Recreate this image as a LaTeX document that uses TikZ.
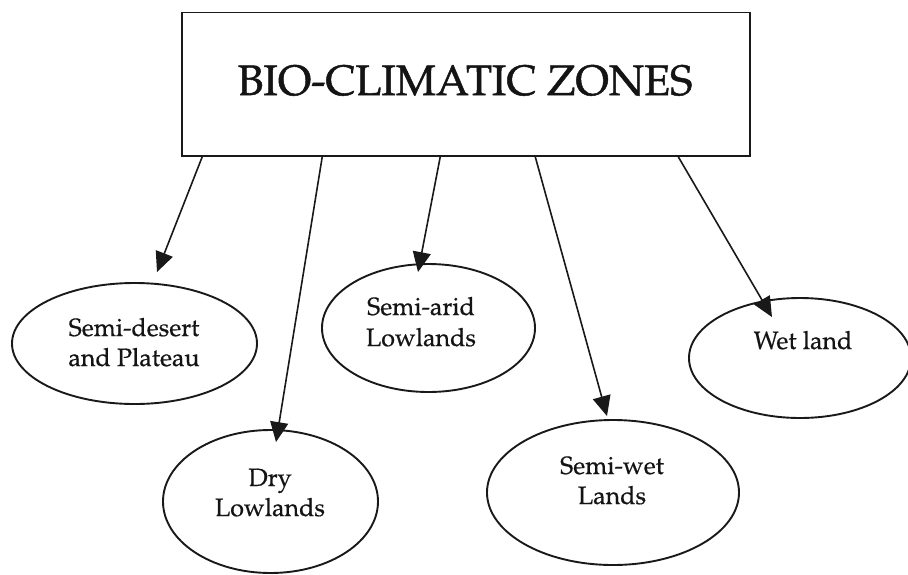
\documentclass[tikz,border=0pt]{standalone}
\usepackage[T1]{fontenc}
\renewcommand{\rmdefault}{ppl}
\usetikzlibrary{shapes.geometric,arrows.meta}
% slightly heavier glyphs: fill and stroke the outlines
\newcommand{\heavytext}[2]{\special{pdf:literal direct 2 Tr #1 w}#2\special{pdf:literal direct 0 Tr}}
\begin{document}
\begin{tikzpicture}[x=1pt,y=-1pt,
  ink/.style={draw=black!90},
  titlebox/.style={ink, line width=1.5pt, rectangle, inner sep=0pt,
    minimum width=568pt, minimum height=143.3pt},
  zone/.style={ink, line width=1.9pt, ellipse, inner sep=0pt},
  lbl/.style={anchor=base, inner sep=0pt, text=black!92,
    font=\fontsize{25}{30}\selectfont},
  link/.style={draw=black!90, line width=1.6pt,
    -{Triangle[length=20pt,width=18pt]}}]
\useasboundingbox (0,0) rectangle (908,574);
\clip (0,0) rectangle (908,574);

% heading box
\node[titlebox] (title) at (466,84.35) {};
\node[anchor=base, inner sep=0pt, text=black!92,
  font=\fontsize{42.5}{50}\selectfont] (titletext) at (465,95) {\heavytext{0.5}{BIO-CLIMATIC ZONES}};

% the five zones
\node[zone, minimum width=245pt, minimum height=121pt] (e1) at (134.5,343.5) {};
\node[zone, minimum width=215pt, minimum height=143pt] (e2) at (270.5,501.5) {};
\node[zone, minimum width=213pt, minimum height=128pt] (e3) at (428.5,328) {};
\node[zone, minimum width=252pt, minimum height=145pt] (e4) at (613,492.5) {};
\node[zone, minimum width=222pt, minimum height=120pt] (e5) at (800,358) {};

\node[lbl] (e1a) at (134,336) {\heavytext{0.12}{Semi-desert}};
\node[lbl] (e1b) at (134,366) {\heavytext{0.12}{and Plateau}};
\node[lbl] (e2a) at (270,486) {\heavytext{0.12}{Dry}};
\node[lbl] (e2b) at (270,516) {\heavytext{0.12}{Lowlands}};
\node[lbl] (e3a) at (421,315) {\heavytext{0.12}{Semi-arid}};
\node[lbl] (e3b) at (421,346) {\heavytext{0.12}{Lowlands}};
\node[lbl] (e4a) at (612,474) {\heavytext{0.12}{Semi-wet}};
\node[lbl] (e4b) at (612,504) {\heavytext{0.12}{Lands}};
\node[lbl] (e5a) at (803,349) {\heavytext{0.12}{Wet land}};

% arrows from the heading to each zone
\draw[link] ([xshift=21pt]title.south west)  -- ([xshift=22.5pt,yshift=10pt]e1.north);
\draw[link] ([xshift=141pt]title.south west) -- ([xshift=5.5pt,yshift=-13pt]e2.north);
\draw[link] ([xshift=259pt]title.south west) -- ([xshift=-10.5pt,yshift=-9pt]e3.north);
\draw[link] ([xshift=354pt]title.south west) -- ([xshift=-6pt,yshift=3pt]e4.north);
\draw[link] ([xshift=497pt]title.south west) -- ([xshift=-28pt,yshift=-20pt]e5.north);
\end{tikzpicture}
\end{document}
